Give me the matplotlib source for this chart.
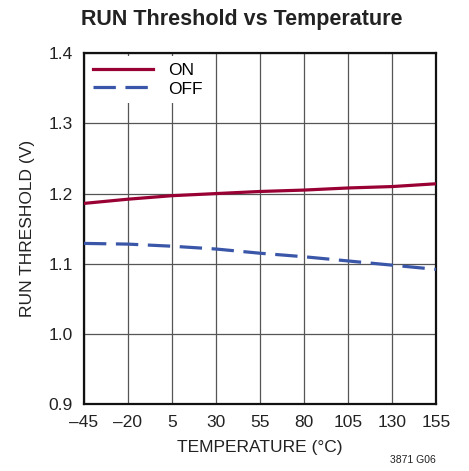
import matplotlib

matplotlib.use("Agg")
import matplotlib.pyplot as plt

temps = [-45, -20, 5, 30, 55, 80, 105, 130, 155]
run_on = [1.186, 1.192, 1.197, 1.200, 1.203, 1.205, 1.208, 1.210, 1.214]
run_off = [1.129, 1.128, 1.125, 1.121, 1.115, 1.110, 1.104, 1.098, 1.092]
xticks = [-45, -20, 5, 30, 55, 80, 105, 130, 155]
yticks = [0.9, 1.0, 1.1, 1.2, 1.3, 1.4]

plt.rcParams["font.family"] = ["Liberation Sans", "DejaVu Sans"]

fig = plt.figure(figsize=(4.69, 4.71), dpi=100)
ax = fig.add_axes([0.179, 0.142, 0.751, 0.745])

ax.plot(temps, run_on, color="#990033", lw=2.3, label="ON", zorder=3)
ax.plot(temps, run_off, color="#3a56a8", lw=2.3, dashes=(7, 3), label="OFF", zorder=3)

ax.set_xlim(-45, 155)
ax.set_ylim(0.9, 1.4)
ax.set_xticks(xticks, labels=[f"{t}".replace("-", "\u2013") for t in xticks])
ax.set_yticks(yticks, labels=[f"{v:.1f}" for v in yticks])
ax.tick_params(length=0, labelsize=12.5, colors="#222222")
ax.tick_params(axis="x", pad=8)
ax.tick_params(axis="y", pad=8)
ax.grid(True, color="#555555", lw=0.9)
ax.set_axisbelow(True)
for s in ax.spines.values():
    s.set_linewidth(1.6)
    s.set_color("#111111")

ax.set_xlabel("TEMPERATURE (°C)", fontsize=12.5, color="#222222", labelpad=7)
ax.set_ylabel("RUN THRESHOLD (V)", fontsize=12.5, color="#222222", labelpad=10)

leg = ax.legend(loc="upper left", fontsize=12.5, frameon=True, fancybox=False,
                edgecolor="none", facecolor="white", framealpha=1,
                handlelength=3.4, borderaxespad=0.15, labelspacing=0.2,
                handletextpad=0.9)
leg.get_frame().set_linewidth(0)

fig.text(0.516, 0.958, "RUN Threshold vs Temperature", ha="center", va="center",
         fontsize=15.5, fontweight="bold", color="#222222")
fig.text(0.93, 0.012, "3871 G06", ha="right", va="bottom", fontsize=7.5, color="#222222")

fig.savefig("out.png", dpi=100)
